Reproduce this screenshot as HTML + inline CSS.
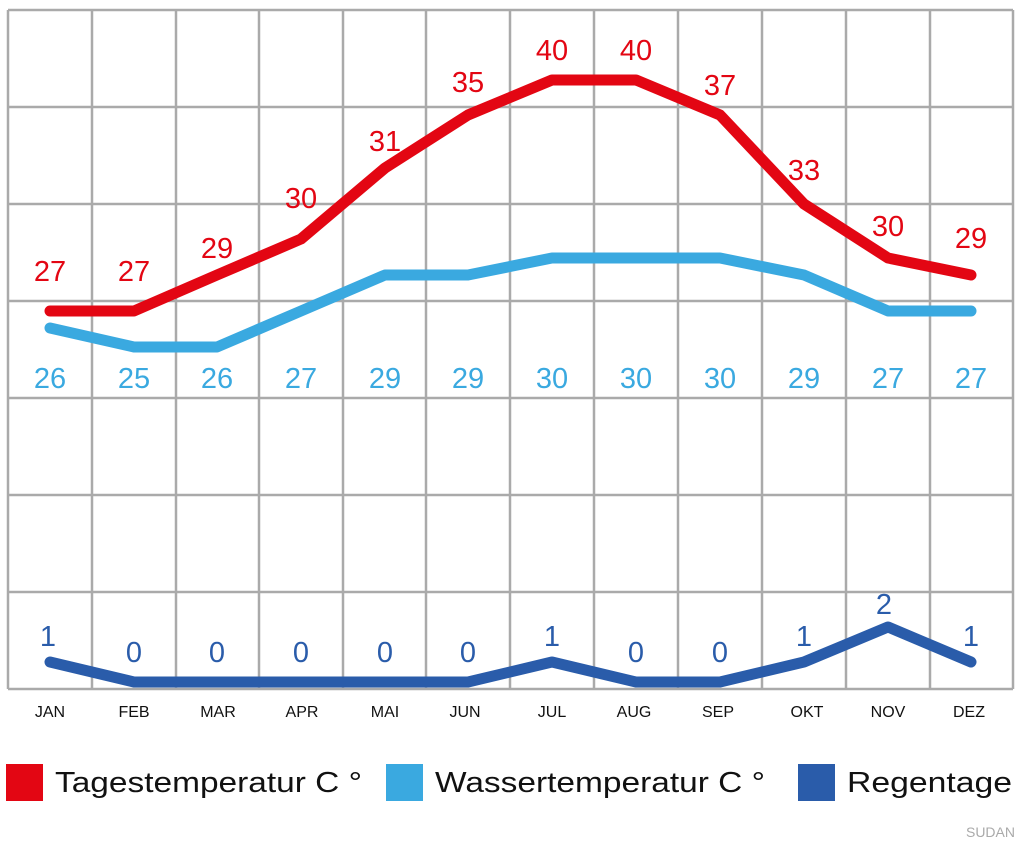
<!DOCTYPE html>
<html><head><meta charset="utf-8"><style>
body{margin:0;background:#fff;}
svg text{font-family:"Liberation Sans",sans-serif;}
</style></head><body>
<svg width="1024" height="853" viewBox="0 0 1024 853" xmlns="http://www.w3.org/2000/svg">
<g stroke="#aaa" stroke-width="2.5" fill="none">
<line x1="8" y1="10" x2="1013" y2="10"/><line x1="8" y1="107" x2="1013" y2="107"/><line x1="8" y1="204" x2="1013" y2="204"/><line x1="8" y1="301" x2="1013" y2="301"/><line x1="8" y1="398" x2="1013" y2="398"/><line x1="8" y1="495" x2="1013" y2="495"/><line x1="8" y1="592" x2="1013" y2="592"/><line x1="8" y1="689" x2="1013" y2="689"/>
<line x1="8" y1="10" x2="8" y2="689"/><line x1="92" y1="10" x2="92" y2="689"/><line x1="176" y1="10" x2="176" y2="689"/><line x1="259" y1="10" x2="259" y2="689"/><line x1="343" y1="10" x2="343" y2="689"/><line x1="426" y1="10" x2="426" y2="689"/><line x1="510" y1="10" x2="510" y2="689"/><line x1="594" y1="10" x2="594" y2="689"/><line x1="678" y1="10" x2="678" y2="689"/><line x1="762" y1="10" x2="762" y2="689"/><line x1="846" y1="10" x2="846" y2="689"/><line x1="930" y1="10" x2="930" y2="689"/><line x1="1013" y1="10" x2="1013" y2="689"/>
</g>
<g fill="none" stroke-width="11" stroke-linecap="round" stroke-linejoin="round">
<polyline stroke="#e30613" points="50,311 134,311 217,275 301,239 385,168 468,115 552,80 636,80 720,115 804,204 888,258 971,275"/>
<polyline stroke="#3aa9e0" points="50,328 134,347 217,347 301,311 385,275 468,275 552,258 636,258 720,258 804,275 888,311 971,311"/>
<polyline stroke="#2a5caa" points="50,662 134,682 217,682 301,682 385,682 468,682 552,662 636,682 720,682 804,662 888,627 971,662"/>
</g>
<g font-size="29" text-anchor="middle" fill="#e30613">
<text x="50" y="281">27</text><text x="134" y="281">27</text><text x="217" y="258">29</text><text x="301" y="208">30</text><text x="385" y="151">31</text><text x="468" y="92">35</text><text x="552" y="60">40</text><text x="636" y="60">40</text><text x="720" y="95">37</text><text x="804" y="180">33</text><text x="888" y="236">30</text><text x="971" y="248">29</text>
</g>
<g font-size="29" text-anchor="middle" fill="#3aa9e0">
<text x="50" y="388">26</text><text x="134" y="388">25</text><text x="217" y="388">26</text><text x="301" y="388">27</text><text x="385" y="388">29</text><text x="468" y="388">29</text><text x="552" y="388">30</text><text x="636" y="388">30</text><text x="720" y="388">30</text><text x="804" y="388">29</text><text x="888" y="388">27</text><text x="971" y="388">27</text>
</g>
<g font-size="29" text-anchor="middle" fill="#2a5caa">
<text x="48" y="646">1</text><text x="134" y="662">0</text><text x="217" y="662">0</text><text x="301" y="662">0</text><text x="385" y="662">0</text><text x="468" y="662">0</text><text x="552" y="646">1</text><text x="636" y="662">0</text><text x="720" y="662">0</text><text x="804" y="646">1</text><text x="884" y="614">2</text><text x="971" y="646">1</text>
</g>
<g font-size="16" text-anchor="middle" fill="#111">
<text x="50" y="717">JAN</text><text x="134" y="717">FEB</text><text x="218" y="717">MAR</text><text x="302" y="717">APR</text><text x="385" y="717">MAI</text><text x="465" y="717">JUN</text><text x="552" y="717">JUL</text><text x="634" y="717">AUG</text><text x="718" y="717">SEP</text><text x="807" y="717">OKT</text><text x="888" y="717">NOV</text><text x="969" y="717">DEZ</text>
</g>
<rect x="6" y="764" width="37" height="37" fill="#e30613"/>
<rect x="386" y="764" width="37" height="37" fill="#3aa9e0"/>
<rect x="798" y="764" width="37" height="37" fill="#2a5caa"/>
<g font-size="29" fill="#111">
<text x="55" y="792" textLength="307" lengthAdjust="spacingAndGlyphs">Tagestemperatur C °</text>
<text x="435" y="792" textLength="330" lengthAdjust="spacingAndGlyphs">Wassertemperatur C °</text>
<text x="847" y="792" textLength="165" lengthAdjust="spacingAndGlyphs">Regentage</text>
</g>
<text x="1015" y="837" font-size="14" fill="#aaa" text-anchor="end">SUDAN</text>
</svg>
</body></html>
